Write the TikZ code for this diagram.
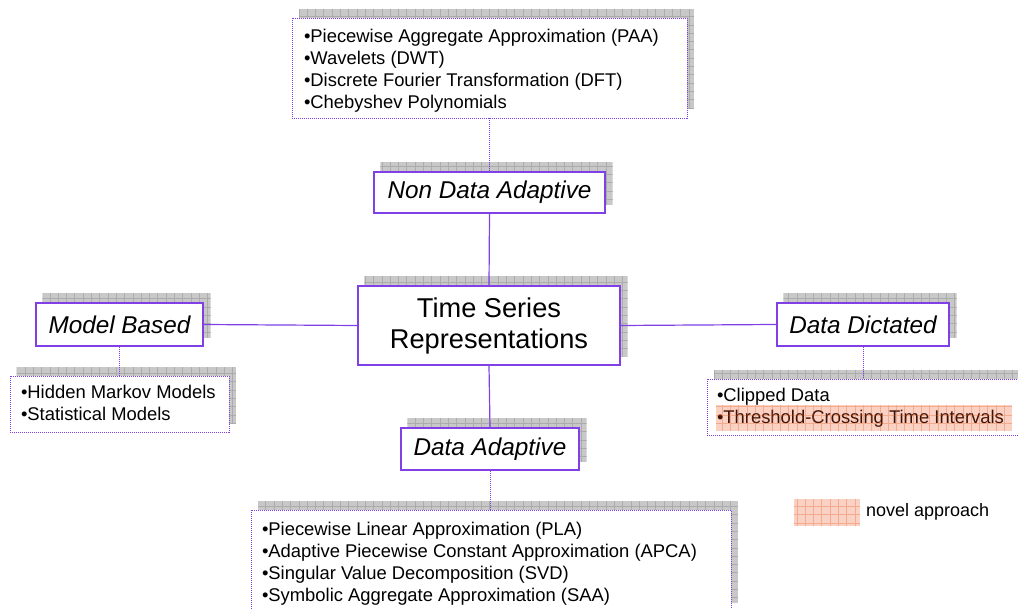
\documentclass[tikz,border=0pt]{standalone}
\usepackage{fontspec}
\setmainfont{Liberation Sans}
\usetikzlibrary{backgrounds}
\definecolor{vio}{RGB}{128,64,230}
\definecolor{shfill}{RGB}{200,200,200}
\definecolor{shline}{RGB}{172,172,172}
\definecolor{novel}{RGB}{236,76,20}
\newcommand\dropshadow[1]{%
  \begin{pgfonlayer}{background}
  \begin{scope}
    \clip ([shift={(7,-9)}]#1.south west) rectangle ([shift={(7,-9)}]#1.north east);
    \fill[shfill] ([shift={(7,-9)}]#1.south west) rectangle ([shift={(7,-9)}]#1.north east);
    \draw[shline,line width=0.6pt,step=8.3pt] ([shift={(7,-9)}]#1.south west) grid ([shift={(7,-9)}]#1.north east);
  \end{scope}
  \end{pgfonlayer}}
\newcommand\novelpatch[2]{%
  \begin{scope}
    \clip #1 rectangle #2;
    \fill[novel,opacity=0.25] #1 rectangle #2;
    \draw[novel,opacity=0.3,line width=0.6pt,step=8.3pt] #1 grid #2;
  \end{scope}}
% list lines: #1 downward shift, #2 column width, #3 lines
\newcommand\listlines[3]{\raisebox{-#1}[\height][\depth]{\begin{tabular}{@{}p{#2}@{}}#3\end{tabular}}}
\begin{document}
\begin{tikzpicture}[x=1pt,y=-1pt,
  labelbox/.style={draw=vio, line width=1.3pt, fill=white, inner sep=0pt,
    font=\itshape\fontsize{24.3}{28}\selectfont},
  listbox/.style={draw=vio, line width=0.9pt, dash pattern=on 1pt off 1pt, fill=white,
    inner ysep=0pt, font=\fontsize{18.4}{22}\selectfont},
  conn/.style={draw=vio, line width=1.2pt},
  dotconn/.style={draw=vio, line width=0.9pt, dash pattern=on 1pt off 1pt}]
\useasboundingbox (0,0) rectangle (1018,609);
\clip (0,0) rectangle (1018,609);

% central node
\node[labelbox, align=center, minimum width=262, minimum height=79,
  font=\fontsize{27.2}{31}\selectfont] (ts) at (489,325.5) {Time Series\\Representations};
\dropshadow{ts}

% category nodes
\node[labelbox, minimum width=231, minimum height=41] (nda) at (489.5,192.5) {Non Data Adaptive};
\dropshadow{nda}
\node[labelbox, minimum width=167, minimum height=43] (mb) at (119.5,324.5) {Model Based};
\dropshadow{mb}
\node[labelbox, minimum width=172, minimum height=43] (dd) at (863,324.5) {Data Dictated};
\dropshadow{dd}
\node[labelbox, minimum width=178, minimum height=42] (da) at (490,449) {Data Adaptive};
\dropshadow{da}

% list nodes
\node[listbox, inner xsep=12pt, minimum height=100] (toplist) at (489.5,68)
  {\listlines{3pt}{371pt}{\textbullet Piecewise Aggregate Approximation (PAA)\\
   \textbullet Wavelets (DWT)\\
   \textbullet Discrete Fourier Transformation (DFT)\\
   \textbullet Chebyshev Polynomials}};
\dropshadow{toplist}
\node[listbox, inner xsep=11pt, minimum height=56] (mblist) at (119.5,404)
  {\listlines{1.5pt}{197pt}{\textbullet Hidden Markov Models\\
   \textbullet Statistical Models}};
\dropshadow{mblist}
\node[listbox, inner xsep=10pt, minimum height=56] (ddlist) at (868.5,407)
  {\listlines{1.5pt}{303pt}{\textbullet Clipped Data\\
   \textbullet Threshold-Crossing Time Intervals}};
\dropshadow{ddlist}
\node[listbox, inner xsep=11pt, minimum height=102] (bottomlist) at (491,561)
  {\listlines{3pt}{458pt}{\textbullet Piecewise Linear Approximation (PLA)\\
   \textbullet Adaptive Piecewise Constant Approximation (APCA)\\
   \textbullet Singular Value Decomposition (SVD)\\
   \textbullet Symbolic Aggregate Approximation (SAA)}};
\dropshadow{bottomlist}

% highlight of the novel approach
\novelpatch{(716,405)}{(1012,431)}

% legend
\node[inner sep=0pt, minimum width=66, minimum height=27] (legendpatch) at (827,512.5) {};
\novelpatch{(794,499)}{(860,526)}
\node[anchor=west, inner sep=0pt, font=\fontsize{18}{22}\selectfont] (legendtext) at (866,512) {novel approach};

% connectors
\draw[conn] (nda.south) -- (ts.north);
\draw[conn] (ts.west) -- (mb.east);
\draw[conn] (ts.east) -- (dd.west);
\draw[conn] (ts.south) -- (da.north);
\draw[dotconn] (toplist.south) -- (nda.north);
\draw[dotconn] (mb.south) -- (mb.south |- mblist.north);
\draw[dotconn] (dd.south) -- (dd.south |- ddlist.north);
\draw[dotconn] (da.south) -- (da.south |- bottomlist.north);
\end{tikzpicture}
\end{document}
